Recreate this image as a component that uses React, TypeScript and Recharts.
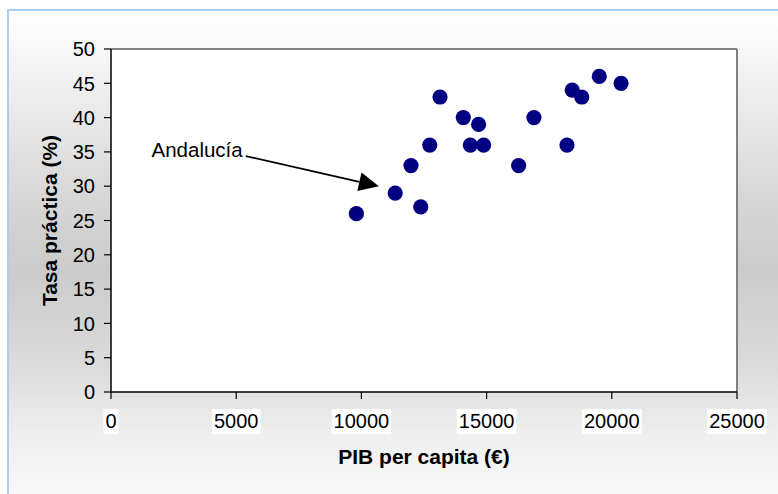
import {
  ScatterChart, Scatter, XAxis, YAxis, ReferenceArea, ReferenceLine
} from 'recharts'

// PIB per capita (€) vs tasa práctica (%) por comunidad autónoma
const pib = [9800, 11350, 12370, 11980, 12730, 13140, 14070, 14680, 14350, 14880, 16280, 16890, 18210, 18420, 18800, 19500, 20370]
const tasa = [26, 29, 27, 33, 36, 43, 40, 39, 36, 36, 33, 40, 36, 44, 43, 46, 45]

const xTicks = [0, 5000, 10000, 15000, 20000, 25000]
const yTicks = [0, 5, 10, 15, 20, 25, 30, 35, 40, 45, 50]

// arrow pointing at Andalucía, in data units
const arrowFrom = { x: 5380, y: 34.4 }
const arrowTo = { x: 10700, y: 30 }

const FONT = '"Liberation Sans", Arial, sans-serif'

const points = pib.map((p, i) => ({ pib: p, tasa: tasa[i] }))

const XTick = (props: any) => {
  const { x, y, payload } = props
  const label = String(payload.value)
  const w = label.length * 0.556 * 20 + 4
  return (
    <g>
      <rect x={x - w / 2} y={y + 8} width={w} height={25} fill="#fff" />
      <text x={x} y={y + 27} textAnchor="middle" fontSize={20} fontFamily={FONT} fill="#000">
        {label}
      </text>
    </g>
  )
}

const YTick = (props: any) => {
  const { x, y, payload } = props
  return (
    <text x={x - 7} y={y} dy="0.36em" textAnchor="end" fontSize={20} fontFamily={FONT} fill="#000">
      {payload.value}
    </text>
  )
}

const Arrow = (props: any) => {
  const { x1, y1, x2, y2 } = props
  const a = Math.atan2(y2 - y1, x2 - x1)
  const len = 20
  const hw = 9.5
  const bx = x2 - len * Math.cos(a)
  const by = y2 - len * Math.sin(a)
  const px = -Math.sin(a) * hw
  const py = Math.cos(a) * hw
  return (
    <g>
      <text x={x1 - 3} y={y1 + 1} textAnchor="end" fontSize={20.5} fontFamily={FONT} fill="#000">
        Andalucía
      </text>
      <line x1={x1} y1={y1} x2={bx} y2={by} stroke="#000" strokeWidth={1.8} />
      <polygon points={`${x2},${y2} ${bx + px},${by + py} ${bx - px},${by - py}`} fill="#000" />
    </g>
  )
}

const Dot = (props: any) => <circle cx={props.cx} cy={props.cy} r={7.6} fill="#000080" />

export default function App() {
  return (
    <div style={{ position: 'absolute', left: 0, top: 0, width: 778, height: 494, overflow: 'hidden', fontFamily: FONT }}>
      <div
        style={{
          position: 'absolute', left: 7, top: 9, width: 800, height: 500,
          borderLeft: '2px solid #a8cff2', borderTop: '2px solid #a8cff2',
          background: 'linear-gradient(to bottom, #ffffff 0%, #f2f2f2 12%, #d6d6d6 38%, #cbcbcb 52%, #dadada 70%, #efefef 85%, #fafafa 100%)'
        }}
      />
      <div style={{ position: 'absolute', left: 0, top: 0 }}>
        <ScatterChart width={778} height={494} margin={{ top: 49, right: 41, bottom: 42, left: 11 }}>
          <XAxis
            type="number"
            dataKey="pib"
            domain={[0, 25000]}
            ticks={xTicks}
            interval={0}
            height={60}
            tickSize={7}
            tickMargin={2}
            axisLine={{ stroke: '#000', strokeWidth: 1.5 }}
            tickLine={{ stroke: '#000', strokeWidth: 1.2 }}
            tick={<XTick />}
            label={({ viewBox }: any) => (
              <text x={viewBox.x + viewBox.width / 2} y={viewBox.y + 72} textAnchor="middle" fontSize={21} fontWeight="bold" fontFamily={FONT} fill="#000">
                PIB per capita (€)
              </text>
            )}
          />
          <YAxis
            type="number"
            dataKey="tasa"
            domain={[0, 50]}
            ticks={yTicks}
            interval={0}
            width={100}
            tickSize={7}
            tickMargin={2}
            axisLine={{ stroke: '#000', strokeWidth: 1.5 }}
            tickLine={{ stroke: '#000', strokeWidth: 1.2 }}
            tick={<YTick />}
            label={({ viewBox }: any) => {
              const cx = viewBox.x + 39
              const cy = viewBox.y + viewBox.height / 2
              return (
                <text x={cx} y={cy} transform={`rotate(-90 ${cx} ${cy})`} dy="0.35em" textAnchor="middle" fontSize={21} fontWeight="bold" fontFamily={FONT} fill="#000">
                  Tasa práctica (%)
                </text>
              )
            }}
          />
          <ReferenceArea x1={0} x2={25000} y1={0} y2={50} fill="#fff" fillOpacity={1} stroke="none" />
          <ReferenceLine y={50} stroke="#808080" strokeWidth={2} />
          <ReferenceLine x={25000} stroke="#808080" strokeWidth={2} />
          <ReferenceLine segment={[arrowFrom, arrowTo]} shape={<Arrow />} />
          <Scatter data={points} shape={<Dot />} isAnimationActive={false} />
        </ScatterChart>
      </div>
    </div>
  )
}
